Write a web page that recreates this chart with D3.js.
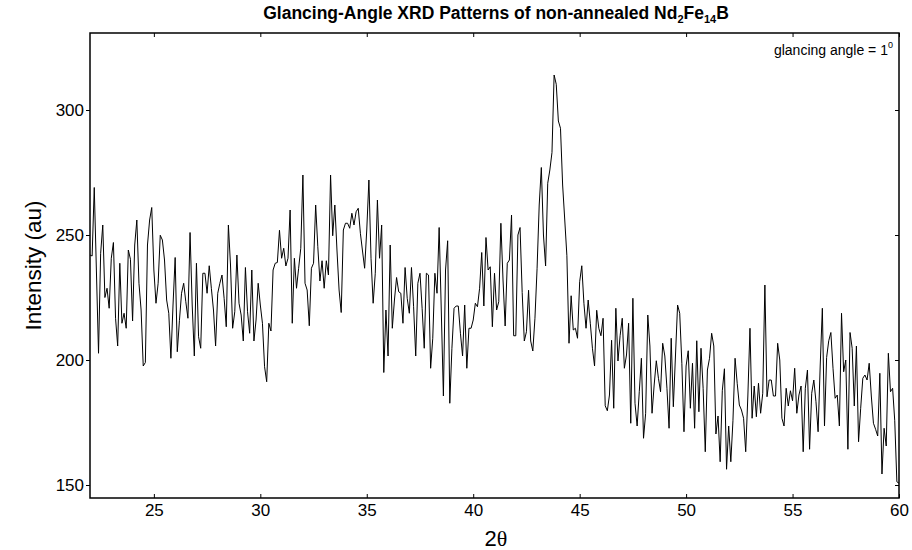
<!DOCTYPE html>
<html>
<head>
<meta charset="utf-8">
<script src="https://cdn.jsdelivr.net/npm/d3@7"></script>
<style>
  body { margin: 0; background: #fff; }
  svg { display: block; }
  text { font-family: "Liberation Sans", Arial, sans-serif; fill: #000; }
</style>
</head>
<body>
<svg id="chart" width="912" height="550"></svg>
<script>
// Scan range of the diffractometer (degrees 2θ), sampled on an even grid
const thetaStart = 22;
const thetaEnd = 60;

// Measured intensity (a.u.), one reading per grid step from 22° to 60°
const intensity = [
  242, 241.6, 269, 236, 202.7, 242.7, 254, 225, 228.7, 220.7, 240.7, 247, 216.7, 205.6, 238.7, 214.7,
  218.7, 212.7, 244, 240.3, 215.6, 246, 256, 230.7, 220, 197.6, 199, 246, 256, 261, 236, 222.7,
  230.7, 249.9, 248, 240, 224, 218.7, 200.7, 222, 241, 203.3, 215.7, 226.7, 230.7, 223.3, 216.7, 251,
  222, 201.6, 238.7, 209.3, 204.7, 234.7, 234.7, 226.7, 237.7, 228.7, 220, 205.6, 226.7, 230.7, 234, 224.7,
  213.3,
  254, 238, 212.7, 219.3, 242, 222.7, 218, 207.6, 237, 219.3, 210.7, 236, 207.6, 216, 230.7, 222,
  214.7, 197.3, 191.3, 214.7, 211.6, 236, 238.7, 239, 251.9, 240.7, 244.7, 237.6, 240.7, 260, 214.7, 240.7,
  228.7, 236.7, 244.7, 274, 230.7, 228, 213.7, 236.7, 238.7, 262, 245.3, 231.6, 239.7, 228.7, 239.7, 234,
  274, 249.7, 262, 244, 228, 219, 252, 254.7, 254.7, 252.7, 258.7, 254, 259.3, 260.7, 250.7, 243.6,
  236.7, 252, 272, 240.7, 222.7, 234.7, 264, 240.7, 254, 195, 220, 201.6, 246, 212.7, 224, 233,
  227.3, 226.7, 214.7, 237, 224.7, 218.7, 237, 221.3, 201.6, 230.7, 234.7, 220.7, 204.7, 234.7, 234, 196.7,
  208.7, 234.7, 226.7, 253, 220, 185.6, 236, 247.7, 182.7, 204.7, 220.7, 221.6, 221.6, 210.7, 201.6, 222,
  196.7, 212.7, 212.7, 216, 222.7, 221.3, 228.7, 243, 221.6, 249, 236, 237.3, 213.3, 234.7, 220, 223.3,
  254.7, 232, 213.6, 238.7, 240, 258, 209.7, 209.7, 250, 253, 227, 207.6, 211.3, 227.9, 207.6, 203.6,
  216.7, 236.7, 262, 277, 250, 237.6, 270.7, 276, 283, 314, 310.3, 295.6, 292.7, 270, 256, 241.7,
  206.7, 225.7, 212, 212.7, 208.7, 231.3, 237.7, 222.7, 212.7, 224, 214.7, 204.7, 197.6, 219.9, 212.7, 209.7,
  216.7, 181.7, 179.7, 186, 207.9, 180.7, 220.7, 199.6, 209.7, 216.7, 196.7, 202, 214.7, 174.7, 224.7,
  182.7, 173.6, 187.3, 200.7, 168.7, 178.7, 218, 205.6, 178.7, 190, 199.7, 192.7, 187.3, 206.7, 201.6, 188.7,
  172.7, 208.7, 181.3, 201.6, 222, 218.7, 198.7, 171.3, 197.6, 203.7, 180.7, 198.7, 172.7, 207.7, 179.3, 204.7,
  188.7, 163.3, 196, 200.7, 210.7, 205.6, 170.4, 177.6, 159.3, 187.7, 196.5, 156.3, 173.6, 159.3, 175.7, 200.7,
  190.7, 182, 180, 176.7, 163.3, 185.6, 212.7, 176.7, 189.6, 177.3, 190.7, 178.7, 186.7, 230, 185.3,
  192, 192, 185.6, 185.6, 206.7, 200, 176.7, 173.6, 188.7, 181.6, 187.7, 183.7, 196.7, 178.7, 186, 189.6,
  163.3, 188.7, 196, 164.3, 186.7, 192, 183.3, 171.3, 198, 220.7, 173.6, 201, 207.7, 211, 196.7, 184.7,
  186, 173.6, 218.7, 195.3, 200, 164.3, 211, 204.7, 181.6, 205.6, 167.3, 180.7, 192.7, 194, 192, 198.7,
  185.6, 174.7, 172.3, 169.6, 194.7, 154.4, 172.7, 165.6, 202.7, 187.3, 188.7, 175.7, 151.3, 150.7
];

const xTicks = [25, 30, 35, 40, 45, 50, 55, 60];
const yTicks = [150, 200, 250, 300];
const yDomain = [144.8, 330.8];

const svg = d3.select("#chart");
const plot = { left: 90, right: 899, top: 33, bottom: 498 };

const x = d3.scaleLinear().domain([thetaStart, thetaEnd]).range([plot.left, plot.right]);
const y = d3.scaleLinear().domain(yDomain).range([plot.bottom, plot.top]);

const step = (thetaEnd - thetaStart) / (intensity.length - 1);
const points = intensity.map((v, i) => ({ t: thetaStart + i * step, v }));

// Diffraction trace
svg.append("path")
  .datum(points)
  .attr("fill", "none")
  .attr("stroke", "#000")
  .attr("stroke-width", 1)
  .attr("stroke-linejoin", "round")
  .attr("d", d3.line().x(d => x(d.t)).y(d => y(d.v)));

// Bottom axis with labels, ticks pointing into the frame
const gx = svg.append("g")
  .attr("transform", `translate(0,${plot.bottom})`)
  .call(d3.axisBottom(x).tickValues(xTicks).tickSizeInner(-4).tickSizeOuter(0).tickPadding(6));

// Left axis with labels, ticks pointing outward
const gy = svg.append("g")
  .attr("transform", `translate(${plot.left},0)`)
  .call(d3.axisLeft(y).tickValues(yTicks).tickSizeInner(4).tickSizeOuter(0).tickPadding(2));

// Mirror ticks on the top and right edges
svg.append("g")
  .attr("transform", `translate(0,${plot.top})`)
  .call(d3.axisTop(x).tickValues(xTicks).tickSizeInner(-4).tickSizeOuter(0).tickFormat(""));
svg.append("g")
  .attr("transform", `translate(${plot.right},0)`)
  .call(d3.axisRight(y).tickValues(yTicks).tickSizeInner(-4).tickSizeOuter(0).tickFormat(""));

svg.selectAll(".domain").remove();
svg.selectAll(".tick line").attr("stroke", "#000").attr("stroke-width", 1);
gx.selectAll("text").attr("font-size", 17).attr("font-family", "Liberation Sans, Arial, sans-serif");
gy.selectAll("text").attr("font-size", 17).attr("font-family", "Liberation Sans, Arial, sans-serif");

// Frame
svg.append("rect")
  .attr("x", plot.left).attr("y", plot.top)
  .attr("width", plot.right - plot.left).attr("height", plot.bottom - plot.top)
  .attr("fill", "none").attr("stroke", "#000").attr("stroke-width", 1.5);

// Title with chemical subscripts
const title = svg.append("text")
  .attr("x", 496)
  .attr("y", 19)
  .attr("text-anchor", "middle")
  .attr("font-size", 17.5)
  .attr("font-weight", "bold");
title.append("tspan").text("Glancing-Angle XRD Patterns of non-annealed Nd");
title.append("tspan").attr("dy", 4).attr("font-size", 11).text("2");
title.append("tspan").attr("dy", -4).text("Fe");
title.append("tspan").attr("dy", 4).attr("font-size", 11).text("14");
title.append("tspan").attr("dy", -4).text("B");

// Annotation in the upper-right corner
const note = svg.append("text")
  .attr("x", plot.right - 6)
  .attr("y", 55)
  .attr("text-anchor", "end")
  .attr("font-size", 14);
note.append("tspan").text("glancing angle = 1");
note.append("tspan").attr("dy", -7).attr("font-size", 9).text("0");

// Axis titles
svg.append("text")
  .attr("transform", `translate(41,${(plot.top + plot.bottom) / 2}) rotate(-90)`)
  .attr("text-anchor", "middle")
  .attr("font-size", 22.5)
  .text("Intensity (au)");

const xl = svg.append("text")
  .attr("x", 496)
  .attr("y", 546)
  .attr("text-anchor", "middle")
  .attr("font-size", 22);
xl.append("tspan").text("2");
xl.append("tspan").attr("font-family", "Liberation Serif, 'Times New Roman', serif").text("θ");
</script>
</body>
</html>
